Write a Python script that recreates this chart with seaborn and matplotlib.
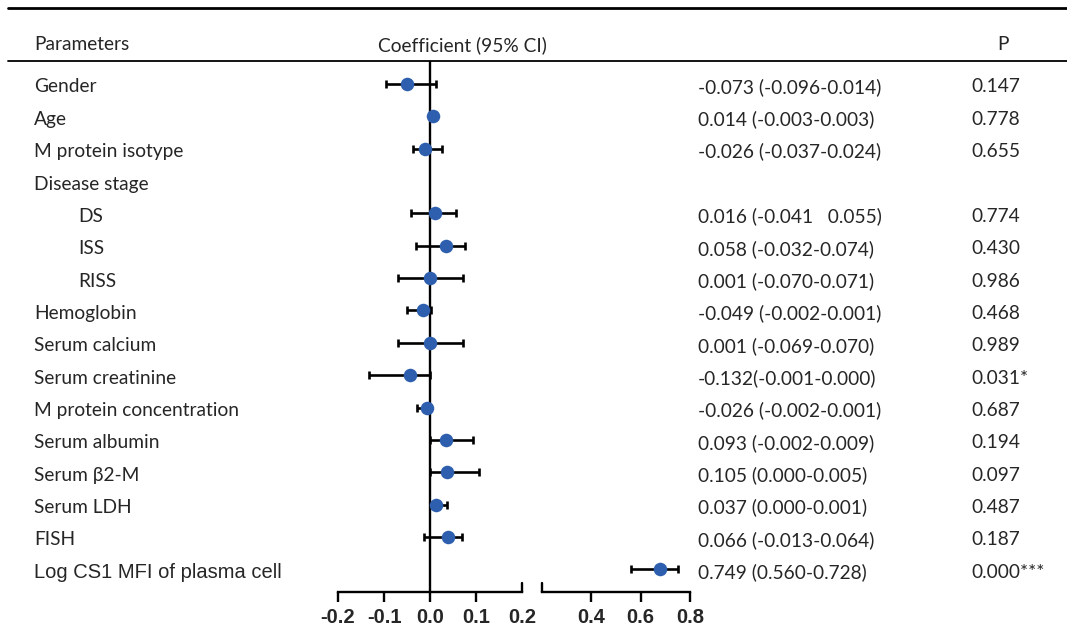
import numpy as np
import pandas as pd
import matplotlib
matplotlib.use('Agg')
import matplotlib.pyplot as plt
import seaborn as sns
from matplotlib.lines import Line2D
from matplotlib.transforms import blended_transform_factory, offset_copy

# ---- data ----
parameters = ['Gender', 'Age', 'M protein isotype', 'Disease stage', 'DS', 'ISS', 'RISS',
              'Hemoglobin', 'Serum calcium', 'Serum creatinine', 'M protein concentration',
              'Serum albumin', 'Serum β2-M', 'Serum LDH', 'FISH', 'Log CS1 MFI of plasma cell']
sub_items = ['DS', 'ISS', 'RISS']

estimates = [-0.050, 0.006, -0.011, np.nan, 0.011, 0.034, 0.001, -0.015, 0.001,
             -0.043, -0.007, 0.034, 0.036, 0.013, 0.040, 0.679]
ci_low = [-0.096, 0.004, -0.037, np.nan, -0.041, -0.030, -0.069, -0.049, -0.069,
          -0.132, -0.028, 0.000, 0.000, 0.000, -0.012, 0.563]
ci_high = [0.014, 0.008, 0.025, np.nan, 0.057, 0.076, 0.072, 0.002, 0.072,
           0.000, 0.000, 0.094, 0.106, 0.038, 0.069, 0.752]

coef_text = ['-0.073 (-0.096-0.014)', '0.014 (-0.003-0.003)', '-0.026 (-0.037-0.024)', '',
             '0.016 (-0.041   0.055)', '0.058 (-0.032-0.074)', '0.001 (-0.070-0.071)',
             '-0.049 (-0.002-0.001)', '0.001 (-0.069-0.070)', '-0.132(-0.001-0.000)',
             '-0.026 (-0.002-0.001)', '0.093 (-0.002-0.009)', '0.105 (0.000-0.005)',
             '0.037 (0.000-0.001)', '0.066 (-0.013-0.064)', '0.749 (0.560-0.728)']
p_text = ['0.147', '0.778', '0.655', '', '0.774', '0.430', '0.986', '0.468', '0.989',
          '0.031*', '0.687', '0.194', '0.097', '0.487', '0.187', '0.000***']

left_ticks = [-0.2, -0.1, 0.0, 0.1, 0.2]
left_labels = ['-0.2', '-0.1', '0.0', '0.1', '0.2']
right_ticks = [0.2, 0.4, 0.6, 0.8]
right_labels = ['', '0.4', '0.6', '0.8']

W, H = 1067, 633
POINT_COLOR = '#2e5fae'
FS = 13.8


def fx(px):
    return px / W


def fy(py):
    return 1 - py / H


def main():
    sns.set_theme(style='white')
    plt.rcParams['font.family'] = ['Lato', 'DejaVu Sans']

    df = pd.DataFrame({'row': np.arange(len(parameters)), 'est': estimates,
                       'lo': ci_low, 'hi': ci_high})
    df = df.dropna()

    fig = plt.figure(figsize=(W / 100, H / 100), dpi=100)
    bottom, top = fy(592), fy(61)
    axL = fig.add_axes([fx(338), bottom, fx(522 - 338), top - bottom])
    axR = fig.add_axes([fx(541.5), bottom, fx(690 - 541.5), top - bottom])

    parts = [(axL, df[df['est'] <= 0.2], (-0.2, 0.2)),
             (axR, df[df['est'] > 0.2], (0.2, 0.8))]
    for ax, sub, lim in parts:
        ax.errorbar(sub['est'], sub['row'],
                    xerr=[sub['est'] - sub['lo'], sub['hi'] - sub['est']],
                    fmt='none', ecolor='black', elinewidth=1.9, capsize=2.6,
                    capthick=1.9, zorder=2)
        sns.scatterplot(data=sub, x='est', y='row', ax=ax, s=95, color=POINT_COLOR,
                        edgecolor=POINT_COLOR, linewidth=0, zorder=3, legend=False)
        ax.set_xlim(*lim)
        ax.set_ylim(15.7, -0.71)
        ax.set_xlabel('')
        ax.set_ylabel('')
        ax.set_yticks([])
        ax.patch.set_alpha(0)
        sns.despine(ax=ax, left=True)
        ax.spines['bottom'].set_linewidth(1.7)
        ax.spines['bottom'].set_color('black')
        ax.tick_params(axis='x', bottom=True, direction='out', length=7, width=1.7,
                       color='black', labelsize=14.5, pad=4.5)

    axL.axvline(0, color='black', lw=1.7, zorder=1)

    axL.set_xticks(left_ticks)
    axL.set_xticklabels(left_labels)
    axR.set_xticks(right_ticks)
    axR.set_xticklabels(right_labels)
    axL.xaxis.get_major_ticks()[-1].tick1line.set_visible(False)
    axR.xaxis.get_major_ticks()[0].tick1line.set_visible(False)
    for ax in (axL, axR):
        for lbl in ax.get_xticklabels():
            lbl.set_fontweight('bold')
            lbl.set_family('Liberation Sans')
    # axis-break marks pointing up
    for ax in (axL, axR):
        ax.plot([0.2, 0.2], [0, 0.017], transform=ax.get_xaxis_transform(),
                color='black', lw=1.7, clip_on=False)

    # table text, nudged a few pixels below the marker rows
    trans = blended_transform_factory(fig.transFigure, axL.transData)
    trans = offset_copy(trans, fig=fig, y=-3, units='dots')
    for i, name in enumerate(parameters):
        if name in sub_items:
            fig.text(fx(78), i, name, transform=trans, va='center', fontsize=FS)
        elif name.startswith('Log CS1'):
            fig.text(fx(34), i, name, transform=trans, va='center', fontsize=14.5,
                     family='Liberation Sans')
        else:
            fig.text(fx(34), i, name, transform=trans, va='center', fontsize=FS)
        if coef_text[i]:
            fig.text(fx(698), i, coef_text[i], transform=trans, va='center', fontsize=FS)
        if p_text[i]:
            fig.text(fx(971), i, p_text[i], transform=trans, va='center', fontsize=FS)

    # header
    fig.text(fx(34), fy(45), 'Parameters', va='center', fontsize=FS)
    fig.text(fx(378), fy(45), 'Coefficient (95% CI)', va='center', fontsize=FS)
    fig.text(fx(997), fy(44), 'P', va='center', fontsize=FS)

    fig.add_artist(Line2D([fx(8), 1], [fy(8), fy(8)], lw=2.0, color='black'))
    fig.add_artist(Line2D([fx(8), 1], [fy(61), fy(61)], lw=1.3, color='black'))

    fig.savefig('out.png', dpi=100)
    plt.close(fig)


if __name__ == '__main__':
    main()
